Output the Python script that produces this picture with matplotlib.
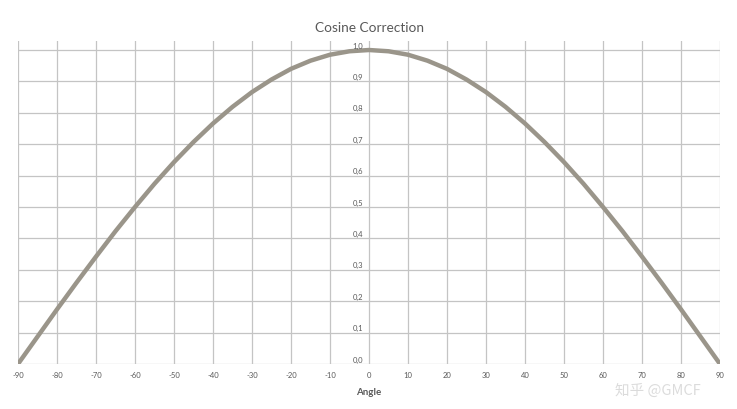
import numpy as np
import matplotlib
matplotlib.use("Agg")
import matplotlib.pyplot as plt

# Werte (Schritt 5 Grad)
angles = [-90, -85, -80, -75, -70, -65, -60, -55, -50, -45, -40, -35, -30,
          -25, -20, -15, -10, -5, 0, 5, 10, 15, 20, 25, 30, 35, 40, 45, 50,
          55, 60, 65, 70, 75, 80, 85, 90]
correction = [0.0, 0.087, 0.174, 0.259, 0.342, 0.423, 0.5, 0.574, 0.643,
              0.707, 0.766, 0.819, 0.866, 0.906, 0.94, 0.966, 0.985, 0.996,
              1.0, 0.996, 0.985, 0.966, 0.94, 0.906, 0.866, 0.819, 0.766,
              0.707, 0.643, 0.574, 0.5, 0.423, 0.342, 0.259, 0.174, 0.087, 0.0]

x_ticks = list(range(-90, 91, 10))
y_ticks = [0.0, 0.1, 0.2, 0.3, 0.4, 0.5, 0.6, 0.7, 0.8, 0.9, 1.0]
y_labels = ["0,0", "0,1", "0,2", "0,3", "0,4", "0,5", "0,6", "0,7", "0,8",
            "0,9", "1,0"]

plt.rcParams['font.family'] = ['Lato', 'DejaVu Sans']

fig = plt.figure(figsize=(7.37, 4.10), dpi=100)
ax = fig.add_axes([18 / 737, 45 / 410, 702 / 737, 323 / 410])

grid_col = "#c4c4c4"
text_col = "#595959"

ax.plot(angles, correction, color="#9a958a", linewidth=3.2,
        solid_capstyle="round", zorder=3)

ax.set_xlim(-90, 90)
ax.set_ylim(0, 1.0287)
ax.set_xticks(x_ticks)
ax.set_xticklabels([str(v) for v in x_ticks])
ax.set_yticks(y_ticks)
ax.set_yticklabels([])
ax.tick_params(axis="x", length=0, labelsize=5.5, labelcolor=text_col, pad=5)
ax.tick_params(axis="y", length=0)
ax.grid(True, color=grid_col, linewidth=0.9)
for s in ax.spines.values():
    s.set_visible(False)

# Y-Beschriftung an der Achse bei x = 0
for v, lab in zip(y_ticks, y_labels):
    ax.annotate(lab, (0, v), xytext=(-4, 1), textcoords="offset points",
                ha="right", va="bottom", fontsize=5.5, color=text_col)

fig.text(369 / 737, 1 - 28 / 410, "Cosine Correction", ha="center",
         va="center", fontsize=9.8, color=text_col)
fig.text(369 / 737, 1 - 393 / 410, "Angle", ha="center", va="center",
         fontsize=7, color=text_col, fontweight="bold")

# Wasserzeichen
fig.text(658 / 737, 1 - 391 / 410, "知乎 @GMCF", ha="center", va="center",
         fontsize=10.5, color="#d8d8d8", alpha=0.9, zorder=5,
         family=['Noto Sans CJK SC', 'DejaVu Sans'])

fig.savefig("out.png", dpi=100)
